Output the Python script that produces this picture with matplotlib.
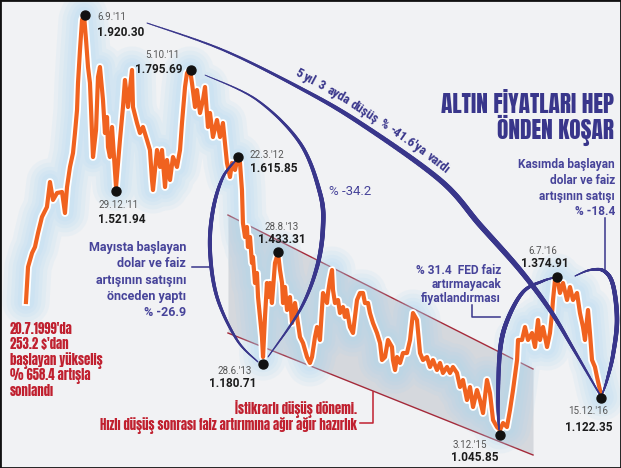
import os
import numpy as np
import matplotlib
matplotlib.use("Agg")
import matplotlib.pyplot as plt
from matplotlib import font_manager
from matplotlib.font_manager import FontProperties
from matplotlib.transforms import Affine2D
from matplotlib.collections import LineCollection

W, H = 621, 468

# ons altın fiyatı ($) - tarih ondalık yıl
dates = [
    2011.078, 2011.099, 2011.140, 2011.170, 2011.201, 2011.241, 2011.292, 2011.323, 2011.354, 2011.395,
    2011.446, 2011.476, 2011.497, 2011.527, 2011.558, 2011.578, 2011.599, 2011.609, 2011.629, 2011.650,
    2011.670, 2011.691, 2011.711, 2011.731, 2011.752, 2011.762, 2011.793, 2011.813, 2011.833, 2011.864,
    2011.884, 2011.905, 2011.915, 2011.935, 2011.956, 2011.976, 2011.997, 2012.037, 2012.068, 2012.088,
    2012.119, 2012.160, 2012.170, 2012.211, 2012.241, 2012.272, 2012.313, 2012.343, 2012.364, 2012.374,
    2012.415, 2012.446, 2012.466, 2012.497, 2012.517, 2012.548, 2012.578, 2012.619, 2012.650, 2012.670,
    2012.701, 2012.721, 2012.752, 2012.772, 2012.803, 2012.823, 2012.854, 2012.884, 2012.905, 2012.935,
    2012.956, 2012.986, 2013.027, 2013.058, 2013.088, 2013.109, 2013.129, 2013.160, 2013.180, 2013.211,
    2013.241, 2013.262, 2013.282, 2013.292, 2013.313, 2013.333, 2013.343, 2013.364, 2013.384, 2013.394,
    2013.415, 2013.435, 2013.446, 2013.466, 2013.486, 2013.497, 2013.507, 2013.517, 2013.537, 2013.548,
    2013.568, 2013.588, 2013.619, 2013.650, 2013.670, 2013.691, 2013.701, 2013.721, 2013.742, 2013.772,
    2013.793, 2013.823, 2013.844, 2013.874, 2013.905, 2013.946, 2013.976, 2013.997, 2014.027, 2014.048,
    2014.078, 2014.109, 2014.150, 2014.160, 2014.180, 2014.201, 2014.211, 2014.231, 2014.262, 2014.282,
    2014.313, 2014.333, 2014.354, 2014.384, 2014.415, 2014.456, 2014.486, 2014.517, 2014.537, 2014.568,
    2014.588, 2014.619, 2014.660, 2014.691, 2014.711, 2014.742, 2014.772, 2014.813, 2014.823, 2014.844,
    2014.864, 2014.895, 2014.925, 2014.966, 2014.997, 2015.027, 2015.068, 2015.099, 2015.129, 2015.170,
    2015.201, 2015.231, 2015.272, 2015.303, 2015.333, 2015.374, 2015.405, 2015.435, 2015.476, 2015.507,
    2015.537, 2015.578, 2015.609, 2015.640, 2015.680, 2015.711, 2015.742, 2015.782, 2015.813, 2015.844,
    2015.884, 2015.915, 2015.946, 2015.986, 2016.017, 2016.048, 2016.089, 2016.099, 2016.140, 2016.170,
    2016.201, 2016.242, 2016.272, 2016.303, 2016.323, 2016.354, 2016.395, 2016.425, 2016.446, 2016.456,
    2016.476, 2016.497, 2016.527, 2016.558, 2016.599, 2016.629, 2016.660, 2016.701, 2016.731, 2016.762,
    2016.782, 2016.813, 2016.833, 2016.854, 2016.884, 2016.905, 2016.935, 2016.956,
]
prices = [
    1321.1, 1394.2, 1423.4, 1436.0, 1465.2, 1498.6, 1519.4, 1571.6, 1534.1, 1548.7,
    1550.8, 1506.9, 1561.2, 1603.0, 1632.2, 1673.9, 1722.0, 1778.3, 1847.2, 1909.8,
    1920.3, 1868.1, 1811.7, 1778.3, 1673.9, 1623.8, 1680.2, 1790.8, 1811.7, 1742.8,
    1673.9, 1707.3, 1644.7, 1623.8, 1686.5, 1623.8, 1561.2, 1659.3, 1728.2, 1784.6,
    1728.2, 1805.5, 1728.2, 1694.8, 1673.9, 1686.5, 1659.3, 1638.4, 1575.8, 1554.9,
    1638.4, 1603.0, 1638.4, 1561.2, 1617.6, 1575.8, 1623.8, 1603.0, 1638.4, 1694.8,
    1770.0, 1799.2, 1805.5, 1778.3, 1728.2, 1763.7, 1715.7, 1742.8, 1770.0, 1686.5,
    1715.7, 1665.6, 1701.1, 1665.6, 1694.8, 1653.1, 1611.3, 1582.1, 1611.3, 1596.7,
    1623.8, 1611.3, 1554.9, 1486.0, 1456.8, 1477.7, 1436.0, 1456.8, 1402.5, 1415.1,
    1360.8, 1381.7, 1331.5, 1289.8, 1248.0, 1206.3, 1248.0, 1289.8, 1360.8, 1331.5,
    1360.8, 1319.0, 1402.5, 1423.4, 1387.9, 1360.8, 1319.0, 1352.4, 1304.4, 1331.5,
    1277.3, 1319.0, 1289.8, 1248.0, 1235.5, 1206.3, 1193.8, 1206.3, 1248.0, 1268.9,
    1241.8, 1339.9, 1319.0, 1339.9, 1367.0, 1387.9, 1346.2, 1319.0, 1325.3, 1298.1,
    1310.7, 1289.8, 1304.4, 1268.9, 1256.4, 1325.3, 1339.9, 1339.9, 1319.0, 1319.0,
    1298.1, 1277.3, 1256.4, 1235.5, 1200.0, 1206.3, 1241.8, 1227.2, 1200.0, 1179.1,
    1206.3, 1193.8, 1214.6, 1214.6, 1241.8, 1298.1, 1283.5, 1214.6, 1200.0, 1206.3,
    1185.4, 1200.0, 1179.1, 1193.8, 1172.9, 1185.4, 1172.9, 1185.4, 1172.9, 1143.6,
    1158.3, 1116.5, 1143.6, 1101.9, 1137.4, 1116.5, 1089.3, 1158.3, 1131.1, 1074.8,
    1060.1, 1053.9, 1068.5, 1060.1, 1095.6, 1137.4, 1200.0, 1241.8, 1241.8, 1268.9,
    1241.8, 1256.4, 1227.2, 1283.5, 1241.8, 1268.9, 1227.2, 1256.4, 1298.1, 1325.3,
    1367.0, 1373.3, 1339.9, 1360.8, 1325.3, 1352.4, 1325.3, 1339.9, 1298.1, 1268.9,
    1241.8, 1304.4, 1256.4, 1200.0, 1185.4, 1164.5, 1137.4, 1122.8,
]
assert len(dates) == len(prices)

# işaretli noktalar
mark_dates = [2011.680, 2011.997, 2012.762, 2013.241, 2013.650, 2013.497, 2015.915, 2016.497, 2016.946]
mark_prices = [1920.3, 1552.8, 1805.5, 1623.8, 1425.5, 1191.7, 1043.5, 1373.3, 1121.0]
mark_days = ["6.9.'11", "29.12.'11", "5.10.'11", "22.3.'12", "28.8.'13", "28.6.'13",
             "3.12.'15", "6.7.'16", "15.12.'16"]
mark_values = ["1.920.30", "1.521.94", "1.795.69", "1.615.85", "1.433.31", "1.180.71",
               "1.045.85", "1.374.91", "1.122.35"]

# düşüş kanalı
chan_dates = [2013.139, 2016.252]
chan_upper = [1502.7, 1181.2]
chan_lower = [1256.4, 1001.7]

INDIGO = "#39368b"
BLUE_TXT = "#47449a"
RED = "#c0202f"
ORANGE = "#f0621f"

all_files = [f.fname for f in font_manager.fontManager.ttflist]


def pick(patterns, family, weight="bold"):
    for p in patterns:
        for f in all_files:
            if os.path.basename(f).lower() == p.lower():
                return FontProperties(fname=f)
    return FontProperties(family=family, weight=weight)


HEAVY = pick(["Anton-Regular.ttf", "BarlowCondensed-ExtraBold.ttf", "DejaVuSansCondensed-Bold.ttf"],
             "DejaVu Sans")
COND = pick(["RobotoCondensed-Bold.ttf", "FiraSansCondensed-Bold.ttf",
             "DejaVuSansCondensed-Bold.ttf"], "DejaVu Sans")
SANS = dict(family="Roboto")

fig = plt.figure(figsize=(W / 100, H / 100), dpi=100)
fig.patch.set_facecolor("#f1f2f4")
ax = fig.add_axes([0, 0, 1, 1])
ax.set_xlim(2010.813, 2010.813 + W / 98)
ax.set_ylim(1951.6 - H * 2.0877, 1951.6)
ax.axis("off")
renderer = fig.canvas.get_renderer()

# piksel koordinatları (sol üst köşe başlangıç)
pix = Affine2D().scale(1 / W, -1 / H).translate(0, 1) + fig.transFigure


def catmull(knots, n=40):
    p = np.array(knots, float)
    p = np.vstack([p[0], p, p[-1]])
    t = np.linspace(0, 1, n, endpoint=False)[:, None]
    out = []
    for i in range(1, len(p) - 2):
        p0, p1, p2, p3 = p[i - 1], p[i], p[i + 1], p[i + 2]
        out.append(0.5 * (2 * p1 + (p2 - p0) * t + (2 * p0 - 5 * p1 + 4 * p2 - p3) * t ** 2
                          + (3 * p1 - p0 - 3 * p2 + p3) * t ** 3))
    out.append(p[-2][None])
    return np.vstack(out)


def swoosh(knots, w0, wmax, w1, peak=0.5, color=INDIGO, z=6):
    pts = catmull(knots)
    segs = np.stack([pts[:-1], pts[1:]], axis=1)
    s = np.linspace(0, 1, len(segs))
    u = s ** (np.log(0.5) / np.log(peak))
    base = w0 * (1 - s) + w1 * s
    width = base + (wmax - base) * np.sin(np.pi * u)
    ax.add_collection(LineCollection(segs, linewidths=width * 0.72, colors=color, transform=pix,
                                     capstyle="round", zorder=z))


def txt(x, y, s, **kw):
    return ax.text(x, y, s, transform=pix, **kw)


def width_of(t):
    return t.get_window_extent(renderer).width


def block(x, y0, dy, rows, fit=None, **kw):
    ts = [txt(x, y0 + i * dy, r, va="baseline", **kw) for i, r in enumerate(rows)]
    if fit is not None:
        row, target = fit
        k = target / width_of(ts[row])
        for t in ts:
            t.set_fontsize(t.get_fontsize() * k)
    return ts


def text_on_curve(knots, s, x0, offset, length, **kw):
    pts = catmull(knots, 60)
    d = np.r_[0, np.cumsum(np.hypot(*np.diff(pts, axis=0).T))]
    probe = txt(0, 0, s, **kw)
    size = probe.get_fontsize() * length / width_of(probe)
    probe.remove()
    pos = np.interp(x0, pts[:, 0], d)
    space = size * 0.25 * 100 / 72
    for word in s.split(" "):
        t = txt(0, 0, word, ha="center", va="center", rotation_mode="anchor", **kw)
        t.set_fontsize(size)
        wd = width_of(t)
        mid = pos + wd / 2
        i = min(max(np.searchsorted(d, mid), 1), len(d) - 1)
        tx, ty = pts[i] - pts[i - 1]
        n = np.hypot(tx, ty)
        tx, ty = tx / n, ty / n
        x, y = np.interp(mid, d, pts[:, 0]), np.interp(mid, d, pts[:, 1])
        t.set_position((x + ty * offset, y - tx * offset))
        t.set_rotation(np.degrees(np.arctan2(-ty, tx)))
        pos += wd + space


# kanal
ax.fill_between(chan_dates, chan_lower, chan_upper, color="#d2d6db", alpha=0.9, lw=0, zorder=1)
ax.plot(chan_dates, chan_upper, color="#a52a3a", lw=1.0, zorder=2)
ax.plot(chan_dates, chan_lower, color="#a52a3a", lw=1.0, zorder=2)

# fiyat çizgisi: parıltı + beyaz kenar + turuncu
for lw in [34, 28, 22, 17, 12]:
    ax.plot(dates, prices, color="#a3d5f2", lw=lw, alpha=0.11, solid_joinstyle="round",
            solid_capstyle="round", zorder=3)
ax.plot(dates, prices, color="white", lw=5.6, solid_joinstyle="round", zorder=4)
ax.plot(dates, prices, color=ORANGE, lw=3.0, solid_joinstyle="round", zorder=5)

# mavi yaylar
big_arc = [(147, 23), (223, 50), (300, 88), (360, 123), (440, 180), (480, 225),
           (520, 270), (550, 310), (574, 350), (600, 395)]
swoosh(big_arc, 1, 5.5, 1.5, peak=0.55)
swoosh([(205, 75), (257, 100), (300, 143), (320, 193), (323, 227), (317, 267),
        (300, 310), (268, 357)], 0.8, 4.5, 1, peak=0.55)
swoosh([(238, 158), (223, 177), (213, 210), (210, 250), (217, 297), (237, 340),
        (258, 362)], 1, 4, 1, peak=0.45)
swoosh([(499, 430), (498, 400), (500, 351), (507, 321), (523, 292), (543, 281),
        (557, 277)], 1, 4.5, 1, peak=0.4)
swoosh([(575, 276), (590, 270), (604, 271), (613, 285), (617, 320), (613, 355),
        (607, 380), (602, 395)], 1, 4.5, 1, peak=0.55)

# bağlantı çizgileri
ax.plot([605, 605], [218, 271], color=INDIGO, lw=1.1, transform=pix, zorder=6)
ax.plot([192, 210], [267, 267], color=INDIGO, lw=1.1, transform=pix, zorder=6)
ax.plot([472, 472, 500], [305, 317, 317], color=INDIGO, lw=1.1, transform=pix, zorder=6)
ax.plot([360, 373, 373], [423, 423, 392], color=RED, lw=1.1, transform=pix, zorder=6)

# noktalar
ax.scatter(mark_dates, mark_prices, s=42, color="#111111", zorder=10)

# tarih / değer etiketleri
label_pos = [(97, 20, 97, 36, "left", "left"), (119, 208, 122, 223, "center", "center"),
             (162, 58, 183, 73, "center", "right"), (250, 158, 250, 172, "left", "left"),
             (282, 230, 282, 243, "center", "center"), (252, 374, 256, 387, "right", "right"),
             (470, 448, 475, 461, "center", "center"), (543, 254, 545, 267, "center", "center"),
             (608, 414, 612, 431, "right", "right")]
for (dx, dy, vx, vy, dha, vha), d, v in zip(label_pos, mark_days, mark_values):
    txt(dx, dy, d, ha=dha, va="baseline", fontsize=7, color="#555555", zorder=11, **SANS)
    txt(vx, vy, v, ha=vha, va="baseline", fontsize=8.5, fontweight="bold", color="#1c1c1c",
        zorder=11, **SANS)

# başlık
block(614, 113, 26, ["ALTIN FİYATLARI HEP", "ÖNDEN KOŞAR"], fit=(0, 174), ha="right",
      fontsize=14, color=INDIGO, fontproperties=HEAVY)

# açıklamalar
block(10, 334, 15.5, ["20.7.1999'da", "253.2 $'dan", "başlayan yükseliş", "% 658.4 artışla",
                      "sonlandı"], fit=(2, 93), ha="left", color=RED, fontproperties=HEAVY)
block(357, 414, 16, ["İstikrarlı düşüş dönemi.",
                     "Hızlı düşüş sonrası faiz artırımına ağır ağır hazırlık"],
      fit=(1, 255), ha="right", color=RED, fontproperties=HEAVY)
block(186, 251, 16.3, ["Mayısta başlayan", "dolar ve faiz", "artışının satışını",
                       "önceden yaptı", "% -26.9"], ha="right", fontsize=9, fontweight="bold",
      color=BLUE_TXT, **SANS)
block(615, 168, 15.8, ["Kasımda başlayan", "dolar ve faiz", "artışının satışı", "% -18.4"],
      ha="right", fontsize=8.6, fontweight="bold", color=BLUE_TXT, **SANS)
block(501, 274, 14, ["% 31.4  FED faiz", "artırmayacak", "fiyatlandırması"], ha="right",
      fontsize=8.6, fontweight="bold", color=BLUE_TXT, **SANS)
txt(350, 195, "% -34.2", ha="center", va="baseline", fontsize=9.5, color=BLUE_TXT, **SANS)
text_on_curve(big_arc, "5 yıl 3 ayda düşüş % -41.6'ya vardı", 290, 12, 180,
              color=INDIGO, fontproperties=COND)

# çerçeve
fig.add_artist(plt.Rectangle((0, 0), 1, 1, transform=fig.transFigure, fill=False,
                             edgecolor="#111111", lw=2))

fig.savefig("out.png", dpi=100)
